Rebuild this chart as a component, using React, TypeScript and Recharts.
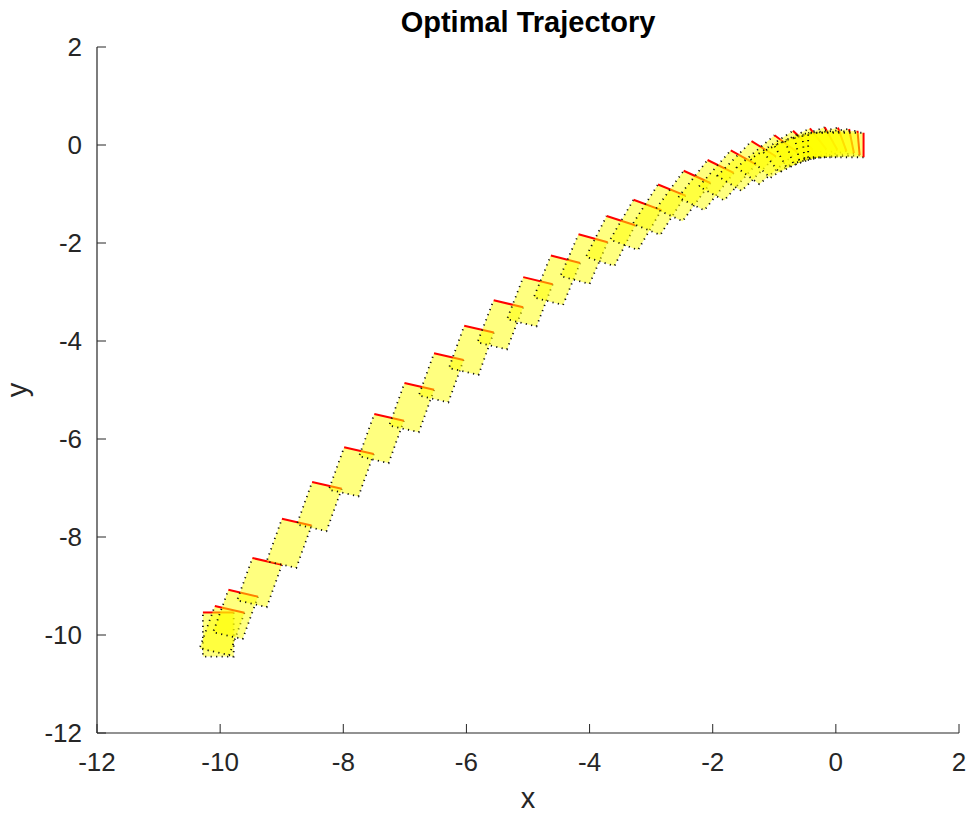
import { ScatterChart, Scatter, XAxis, YAxis } from "recharts";

// pose of the body at each step: centre (x, y) and heading in degrees
const poseX = [
  -10.03, -9.97, -9.75, -9.36, -8.88, -8.39, -7.87, -7.38, -6.89, -6.41, -5.92,
  -5.45, -4.97, -4.53, -4.09, -3.66, -3.25, -2.87, -2.48, -2.11, -1.76, -1.45,
  -1.12, -0.88, -0.67, -0.49, -0.33, -0.19, -0.08, 0,
];
const poseY = [
  -9.99, -9.91, -9.58, -8.93, -8.13, -7.38, -6.67, -5.99, -5.36, -4.75, -4.19,
  -3.67, -3.2, -2.76, -2.33, -1.96, -1.63, -1.32, -1.04, -0.82, -0.62, -0.43,
  -0.3, -0.19, -0.11, -0.05, -0.01, 0.01, 0.01, 0,
];
const poseTheta = [
  90, 74, 74, 74, 74, 74, 74, 74, 74, 74, 74, 73, 73, 72, 71, 68, 65, 63, 60,
  58, 55, 52, 47, 40, 32, 24, 16, 9, 4, 0,
];

const xTicks = [-12, -10, -8, -6, -4, -2, 0, 2];
const yTicks = [-12, -10, -8, -6, -4, -2, 0, 2];

const poses = poseX.map((x, i) => ({ x, y: poseY[i], theta: poseTheta[i] }));

const CHART_W = 972;
const CHART_H = 814;
const MARGIN = { top: 47, right: 13, bottom: 0, left: 37 };
const Y_AXIS_W = 60;
const X_AXIS_H = 81;
const PLOT_W = CHART_W - MARGIN.left - MARGIN.right - Y_AXIS_W;
const PLOT_H = CHART_H - MARGIN.top - MARGIN.bottom - X_AXIS_H;
const KX = PLOT_W / 14;
const KY = PLOT_H / 14;

// body size in data units
const CAR_L = 0.9;
const CAR_W = 0.5;

const FONT = "'Liberation Sans', Arial, Helvetica, sans-serif";
const INK = "#262626";

const PoseShape = (props: any) => {
  const { cx, cy, payload } = props;
  if (cx == null || cy == null) return null;
  const t = (payload.theta * Math.PI) / 180;
  const hx = Math.cos(t);
  const hy = Math.sin(t);
  const pt = (u: number, v: number) => [
    cx + (u * hx - v * hy) * KX,
    cy - (u * hy + v * hx) * KY,
  ];
  const fl = pt(CAR_L / 2, CAR_W / 2);
  const fr = pt(CAR_L / 2, -CAR_W / 2);
  const rr = pt(-CAR_L / 2, -CAR_W / 2);
  const rl = pt(-CAR_L / 2, CAR_W / 2);
  const poly = [fl, fr, rr, rl].map((p) => p.join(",")).join(" ");
  return (
    <g>
      <polygon points={poly} fill="#ffff00" fillOpacity={0.5} stroke="none" />
      <polyline
        points={[fr, rr, rl, fl].map((p) => p.join(",")).join(" ")}
        fill="none"
        stroke="#111"
        strokeWidth={1.8}
        strokeDasharray="1.2 4.3"
      />
      <line x1={fl[0]} y1={fl[1]} x2={fr[0]} y2={fr[1]} stroke="#ff0000" strokeWidth={2} />
    </g>
  );
};

const XTick = ({ x, y, payload }: any) => (
  <g>
    <line x1={x} y1={y} x2={x} y2={y - 9} stroke={INK} strokeWidth={1} />
    <text x={x} y={y + 29} dy="0.35em" textAnchor="middle" fill={INK} fontSize={26} fontFamily={FONT}>
      {payload.value}
    </text>
  </g>
);

const YTick = ({ x, y, payload }: any) => (
  <g>
    <line x1={x} y1={y} x2={x + 9} y2={y} stroke={INK} strokeWidth={1} />
    <text x={x - 15} y={y} dy="0.35em" textAnchor="end" fill={INK} fontSize={26} fontFamily={FONT}>
      {payload.value}
    </text>
  </g>
);

const XLabel = (props: any) => {
  const vb = props.viewBox || {};
  return (
    <text x={vb.x + vb.width / 2} y={808} textAnchor="middle" fill={INK} fontSize={29} fontFamily={FONT}>
      x
    </text>
  );
};

const YLabel = (props: any) => {
  const vb = props.viewBox || {};
  const cy = vb.y + vb.height / 2;
  return (
    <text
      x={26.5}
      y={cy}
      transform={`rotate(-90, 26.5, ${cy})`}
      textAnchor="middle"
      fill={INK}
      fontSize={29}
      fontFamily={FONT}
    >
      y
    </text>
  );
};

export default function App() {
  return (
    <div style={{ position: "absolute", left: 0, top: 0, width: CHART_W, height: CHART_H, background: "#fff" }}>
      <div
        style={{
          position: "absolute",
          left: MARGIN.left + Y_AXIS_W,
          width: PLOT_W,
          top: 6,
          textAlign: "center",
          fontFamily: FONT,
          fontWeight: "bold",
          fontSize: 29,
          lineHeight: "32px",
          color: "#000",
        }}
      >
        Optimal Trajectory
      </div>
      <ScatterChart width={CHART_W} height={CHART_H} margin={MARGIN}>
        <XAxis
          type="number"
          dataKey="x"
          domain={[-12, 2]}
          ticks={xTicks}
          height={X_AXIS_H}
          tickSize={0}
          tickMargin={0}
          tickLine={false}
          axisLine={{ stroke: INK, strokeWidth: 1.2 }}
          tick={<XTick />}
          label={XLabel}
        />
        <YAxis
          type="number"
          dataKey="y"
          domain={[-12, 2]}
          ticks={yTicks}
          width={Y_AXIS_W}
          tickSize={0}
          tickMargin={0}
          tickLine={false}
          axisLine={{ stroke: INK, strokeWidth: 1.2 }}
          tick={<YTick />}
          label={YLabel}
        />
        <Scatter data={poses} shape={PoseShape} isAnimationActive={false} />
      </ScatterChart>
    </div>
  );
}
